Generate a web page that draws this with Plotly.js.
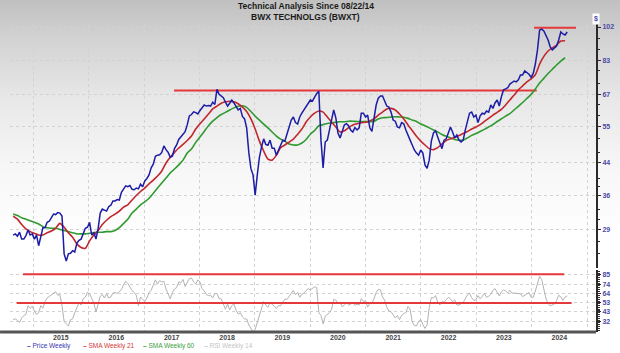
<!DOCTYPE html>
<html><head><meta charset="utf-8">
<script src="https://cdn.plot.ly/plotly-3.0.1.min.js"></script>
<style>
html,body{margin:0;padding:0;background:#fff;}
#chart{width:620px;height:353px;background:linear-gradient(to bottom,#c0c0c0 0px,#d3d3d3 40px,#e8e8e8 100px,#f7f7f7 170px,#ffffff 240px,#ffffff 353px);}
</style></head><body><div id="chart"></div>
<script>
// ---- data ----
const seriesStart = '2014-08-22';
const weeklyStepDays = 14;   // price & RSI samples
const smaStepDays = 28;      // moving-average samples

const priceWeekly = [
 28.1,28.3,27.9,28.6,27.4,27.4,28.0,29.0,28.1,28.3,
 27.4,28.1,26.3,27.8,29.4,29.4,30.4,30.6,31.2,32.0,
 31.9,32.3,32.2,31.6,25.0,23.9,25.0,25.1,25.5,25.3,
 26.7,27.2,27.4,28.3,29.3,29.5,30.4,28.1,28.5,27.4,
 29.2,32.2,33.0,32.8,32.6,33.5,33.8,34.7,34.7,35.0,
 34.9,36.6,37.4,38.1,37.9,38.2,37.3,37.2,37.6,37.4,
 38.5,37.9,39.3,39.9,40.8,42.6,43.6,45.8,46.1,46.2,
 46.9,48.8,47.7,46.9,45.5,45.8,48.0,49.1,50.8,51.7,
 52.7,53.3,55.6,58.8,59.3,60.3,60.0,59.5,60.8,62.0,
 62.9,62.5,62.7,62.5,64.0,63.1,69.3,67.2,66.5,65.8,
 64.0,62.5,63.6,64.9,63.7,62.1,61.0,61.6,58.6,57.7,
 54.6,46.9,42.4,40.8,36.0,40.8,45.5,48.5,51.0,49.3,
 49.0,50.6,48.1,48.1,46.1,47.6,49.0,50.5,50.3,52.4,
 54.6,57.3,58.4,56.4,55.9,58.4,59.8,61.0,62.5,63.7,
 64.9,64.5,66.2,67.6,68.5,50.6,42.6,50.0,50.6,53.9,
 57.3,61.0,58.1,52.9,51.3,53.6,55.6,56.0,55.3,53.9,
 53.2,54.7,53.9,54.6,59.8,59.8,58.4,59.1,54.6,53.4,
 57.3,62.9,65.6,66.5,66.5,64.5,62.5,62.1,60.2,57.3,
 56.9,54.9,54.6,56.4,56.0,53.9,52.5,50.6,49.1,47.6,
 46.7,46.1,47.6,46.7,43.4,42.5,44.7,50.3,52.9,53.6,
 51.6,49.7,48.0,50.6,51.0,52.9,54.9,53.2,51.3,52.2,
 50.6,50.0,50.6,53.9,57.3,59.8,60.2,58.4,59.1,56.4,
 58.8,59.8,59.5,60.6,60.2,62.9,61.6,63.7,64.9,62.5,
 66.2,69.1,69.5,70.0,71.6,72.2,73.0,72.6,73.5,75.8,
 75.8,77.7,77.0,76.1,74.7,76.5,81.1,88.5,100.1,100.7,
 99.5,97.1,94.1,90.1,88.5,89.6,90.7,94.1,98.9,97.7,
 97.1,98.9
];

const rsiWeekly14 = [
 34.3,35.1,33.5,31.2,36.2,39.0,40.2,49.9,46.8,49.1,
 44.0,40.2,42.1,49.9,47.2,54.6,58.5,60.4,61.6,63.6,
 65.5,61.6,62.4,49.9,32.3,29.6,27.3,34.3,35.1,42.1,
 48.7,53.0,50.7,57.7,59.6,64.7,63.2,57.7,53.0,42.9,
 51.9,60.4,62.4,58.5,63.6,58.5,59.6,64.0,64.7,63.6,
 65.5,68.2,73.3,77.2,74.9,70.2,66.7,64.7,61.6,49.9,
 59.6,56.9,54.6,58.5,64.7,67.1,72.5,78.8,74.1,78.0,
 76.4,77.2,68.6,63.6,57.7,64.7,68.6,70.2,76.4,75.6,
 79.2,71.4,75.2,80.3,80.7,76.4,74.1,78.8,76.4,69.0,
 66.3,62.4,61.2,61.6,58.5,63.6,63.6,57.7,57.7,50.7,
 46.0,51.9,45.2,49.9,51.9,44.8,40.5,42.1,37.4,35.1,
 35.1,28.4,24.9,20.7,23.4,32.0,39.8,46.0,54.6,50.7,
 48.0,53.8,51.5,49.1,46.8,49.9,49.9,53.8,57.3,56.9,
 60.8,64.3,67.1,62.0,64.7,59.3,62.8,64.3,66.3,69.0,
 67.5,69.4,71.0,70.2,42.1,39.0,29.6,38.2,40.5,42.1,
 46.0,56.9,56.1,52.2,53.8,48.7,50.7,53.0,50.7,51.5,
 53.8,50.3,51.5,50.7,57.7,54.6,55.4,48.3,52.2,52.6,
 57.7,64.7,68.2,67.5,59.6,56.1,48.3,44.0,43.3,39.0,
 36.2,39.0,34.3,39.0,41.3,42.1,49.1,46.0,31.6,27.7,
 27.3,32.3,34.3,28.8,24.5,28.4,47.9,58.9,58.5,61.2,
 53.8,50.7,54.6,53.8,56.1,59.3,57.7,54.2,56.5,50.7,
 50.7,51.9,53.4,57.7,62.0,64.0,58.8,55.8,56.5,61.2,
 57.7,60.4,63.6,59.3,60.4,62.8,67.1,69.0,64.0,60.8,
 65.5,67.5,66.3,64.0,67.1,64.0,64.0,63.6,63.2,63.2,
 60.0,61.6,64.0,64.7,59.3,59.3,66.3,75.2,82.7,79.2,
 67.5,57.7,52.2,49.9,50.7,51.9,55.8,61.6,59.6,55.8,
 59.6,60.8
];

const smaWeekly21 = [
 31.6,31.0,30.0,29.2,28.7,28.4,28.1,28.1,28.5,28.8,
 29.3,30.2,29.5,28.5,27.7,26.6,26.0,25.9,27.1,28.1,
 28.9,30.0,30.8,31.5,32.0,32.6,33.4,33.9,34.9,35.9,
 36.8,37.6,38.6,39.5,40.5,41.8,43.9,45.5,46.9,48.2,
 49.3,50.5,51.9,54.2,56.0,57.7,59.5,61.4,62.5,63.6,
 64.2,64.4,64.2,63.4,62.1,60.4,57.7,54.2,50.3,47.3,
 45.0,44.7,46.1,48.3,49.1,50.0,50.9,52.5,54.2,56.6,
 58.4,59.8,60.6,60.2,58.4,56.6,54.9,53.2,53.6,54.7,
 55.6,56.0,56.4,56.5,57.0,57.7,59.1,60.2,61.4,61.6,
 61.0,59.5,57.7,55.6,53.7,51.8,50.3,49.1,48.0,47.7,
 48.3,49.4,50.5,51.0,51.4,52.1,52.7,53.4,54.2,54.9,
 55.7,56.8,57.9,59.1,60.1,61.2,62.9,64.9,66.9,69.1,
 70.8,72.6,74.0,75.9,81.0,85.0,87.9,89.6,91.2,93.5,
 93.7
];

const smaWeekly60 = [
 32.0,31.7,31.3,31.0,30.7,30.4,30.1,29.6,29.4,29.3,
 29.3,29.1,28.9,28.7,28.5,28.3,28.3,28.3,28.4,28.5,
 28.6,28.6,28.7,28.7,28.9,29.4,30.2,31.0,32.2,33.0,
 33.9,34.5,35.3,36.4,37.6,38.8,40.0,41.3,42.3,43.4,
 44.7,46.7,47.9,49.9,51.6,53.4,55.3,56.9,58.2,59.3,
 60.1,61.0,61.8,62.4,62.6,62.0,60.4,58.7,57.3,55.9,
 54.6,53.2,51.9,50.9,50.3,49.4,49.1,49.1,49.7,50.8,
 52.5,53.7,55.3,55.7,56.1,56.3,56.5,56.7,56.7,56.9,
 56.9,56.8,56.8,56.8,56.7,56.9,57.7,58.1,58.2,58.4,
 58.5,58.4,58.3,57.9,57.3,56.8,55.9,55.3,54.6,53.9,
 53.2,52.4,51.8,51.3,50.8,50.6,50.6,51.3,52.1,52.7,
 53.4,54.1,54.9,55.7,56.8,57.7,58.7,59.6,61.0,62.4,
 63.9,65.5,67.2,69.5,72.1,74.2,76.5,78.5,80.6,82.6,
 84.3
];

// horizontal reference levels
const priceLevelStarts = ['2017-07-18','2024-01-18'];
const priceLevelEnds   = ['2024-02-04','2024-10-20'];
const priceLevelValues = [68.8, 101.6];
const rsiLevelStarts = ['2014-10-26','2014-09-14'];
const rsiLevelEnds   = ['2024-08-03','2024-09-21'];
const rsiLevelValues = [85, 53];

// axis ticks
const priceTicks = [29,36,44,55,67,83,102];
const priceMinorTicks = [25,27,31,33,38,40,47,51,59,63,72,78,89,95];
const rsiTicks = [32,43,53,64,74,85];

const titleLines = ['Technical Analysis Since 08/22/14', 'BWX TECHNOLGS (BWXT)'];
const legendLabels = ['Price Weekly','SMA Weekly 21','SMA Weekly 60','RSI Weekly 14'];
const legendColors = ['#3434b0','#d23a36','#3a9e3a','#c4c4c4'];

// ---- build ----
function buildDates(start, stepDays, n){
  const t0 = new Date(start + 'T00:00:00Z').getTime();
  const out = [];
  for (let i = 0; i < n; i++) out.push(new Date(t0 + i*stepDays*86400000).toISOString().slice(0,10));
  return out;
}
const weeklyDates = buildDates(seriesStart, weeklyStepDays, priceWeekly.length);
const smaDates = buildDates(seriesStart, smaStepDays, smaWeekly21.length);

const RED = '#e5383b';
const traces = [];
traces.push({x: weeklyDates, y: rsiWeekly14, xaxis:'x', yaxis:'y2', mode:'lines', line:{color:'#b3b3b3', width:1}, hoverinfo:'skip'});
rsiLevelValues.forEach((v,k)=>traces.push({x:[rsiLevelStarts[k], rsiLevelEnds[k]], y:[v,v], xaxis:'x', yaxis:'y2', mode:'lines', line:{color:RED, width:2}}));
priceLevelValues.forEach((v,k)=>traces.push({x:[priceLevelStarts[k], priceLevelEnds[k]], y:[v,v], xaxis:'x', yaxis:'y', mode:'lines', line:{color:RED, width:2}}));
traces.push({x: smaDates, y: smaWeekly60, xaxis:'x', yaxis:'y', mode:'lines', line:{color:'#2f9a2f', width:1.6, shape:'spline', smoothing:0.6}});
traces.push({x: smaDates, y: smaWeekly21, xaxis:'x', yaxis:'y', mode:'lines', line:{color:'#c1272d', width:1.6, shape:'spline', smoothing:0.6}});
traces.push({x: weeklyDates, y: priceWeekly, xaxis:'x', yaxis:'y', mode:'lines', line:{color:'#1c1ca6', width:1.5}});

const annotations = [
  {text:titleLines[0], xref:'paper', yref:'paper', x:0.505, y:(332-6)/308, xanchor:'center', yanchor:'middle', showarrow:false,
   font:{family:'Arial', size:8.5, color:'#1a1a1a', weight:'bold'}},
  {text:titleLines[1], xref:'paper', yref:'paper', x:0.505, y:(332-16.5)/308, xanchor:'center', yanchor:'middle', showarrow:false,
   font:{family:'Arial', size:8.5, color:'#1a1a1a', weight:'bold'}},
  {text:'$', xref:'paper', yref:'paper', x:1.006, y:1.036, showarrow:false, font:{family:'Arial', size:7, color:'#4b4ba6', weight:'bold'}, bgcolor:'#ffffff', borderpad:1}
];
const legendX = [25, 81, 141, 202];
legendLabels.forEach((lab,k)=>annotations.push({
  text:'<b>–</b> ' + lab, xref:'paper', yref:'paper', x:(legendX[k]-10)/586, y:-0.045, xanchor:'left', yanchor:'middle',
  showarrow:false, font:{family:'Arial', size:6.5, color:legendColors[k]}
}));

const GRID = '#d2d2d2';
const layout = {
  width:620, height:353,
  margin:{l:10, r:24, t:24, b:21},
  paper_bgcolor:'rgba(0,0,0,0)', plot_bgcolor:'rgba(0,0,0,0)',
  showlegend:false,
  xaxis:{type:'date', range:['2014-08-01','2025-03-01'], anchor:'y2', domain:[0,1],
         showgrid:true, gridcolor:GRID, griddash:'dot', gridwidth:1,
         tick0:'2015-01-01', dtick:'M12', tickformat:'%Y', ticklabelmode:'period', ticks:'',
         tickfont:{family:'Arial', size:7, color:'#444', weight:'bold'},
         showline:false, zeroline:false},
  yaxis:{type:'log', domain:[0.2078,1], range:[1.3600, 2.0167], side:'right', anchor:'x',
         tickmode:'array', tickvals:priceTicks, ticktext:priceTicks.map(String),
         tickfont:{family:'Arial', size:7, color:'#4b4ba6', weight:'bold'},
         showgrid:true, gridcolor:GRID, griddash:'dot', gridwidth:1,
         showline:true, linecolor:'#2a2a2a', linewidth:2, ticks:'outside', ticklen:3, tickcolor:'#2a2a2a', tickwidth:1,
         minor:{tickmode:'array', tickvals:priceMinorTicks, ticks:'outside', ticklen:2, tickcolor:'#2a2a2a', showgrid:false},
         zeroline:false},
  yaxis2:{domain:[0,0.2013], range:[20.5,89.8], side:'right', anchor:'x',
         tickmode:'array', tickvals:rsiTicks, ticktext:rsiTicks.map(String),
         tickfont:{family:'Arial', size:7, color:'#4b4ba6', weight:'bold'},
         showgrid:true, gridcolor:GRID, griddash:'dot', gridwidth:1,
         showline:true, linecolor:'#2a2a2a', linewidth:2, ticks:'outside', ticklen:3, tickcolor:'#2a2a2a',
         minor:{dtick:2.2, ticks:'outside', ticklen:2, tickcolor:'#2a2a2a', showgrid:false},
         zeroline:false},
  shapes:[
    {type:'line', xref:'paper', yref:'paper', x0:-0.017, x1:1, y0:0, y1:0, line:{color:'#555555', width:3}}
  ],
  annotations: annotations
};

Plotly.newPlot('chart', traces, layout, {staticPlot:true, displayModeBar:false});
</script></body></html>
